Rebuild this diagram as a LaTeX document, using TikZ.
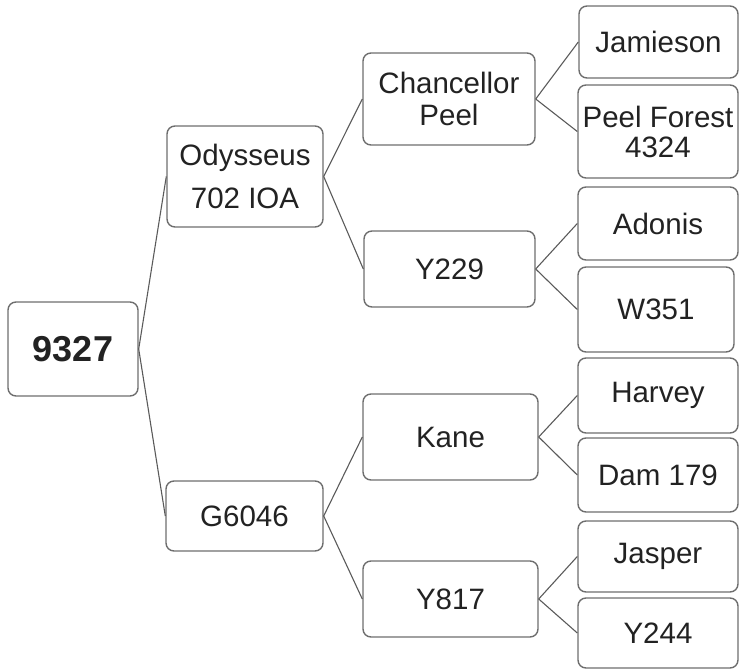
\documentclass[tikz,border=0pt]{standalone}
\usepackage{fontspec}
\setmainfont{Liberation Sans}
\definecolor{boxline}{HTML}{6E6E6E}
\definecolor{conn}{HTML}{5A5A5A}
\definecolor{txt}{HTML}{222222}
\tikzset{
  box/.style={draw=boxline, line width=1.4pt, rounded corners=8pt, fill=white,
    inner sep=0pt, align=center, text=txt,
    font=\fontsize{29.5}{32}\selectfont},
  conn/.style={draw=conn, line width=1.1pt}
}
\begin{document}
\begin{tikzpicture}[x=1pt,y=-1pt]
\useasboundingbox (0,0) rectangle (740,669);
% root
\node[box, minimum width=130pt, minimum height=94pt, font=\fontsize{36}{40}\selectfont\bfseries] (root) at (73,349) {9327};
% level 1
\node[box, minimum width=156pt, minimum height=101pt, font=\fontsize{29.5}{43}\selectfont] (ody) at (245,176.5) {Odysseus\\702 IOA};
\node[box, minimum width=157pt, minimum height=70pt] (g) at (244.5,516) {G6046};
% level 2
\node[box, minimum width=172pt, minimum height=92pt] (cp) at (449,99) {Chancellor\\Peel};
\node[box, minimum width=171pt, minimum height=76pt] (y229) at (449.5,269) {Y229};
\node[box, minimum width=175pt, minimum height=86pt] (kane) at (450.5,437) {Kane};
\node[box, minimum width=175pt, minimum height=76pt] (y817) at (450.5,599) {Y817};
% leaves
\node[box, minimum width=159pt, minimum height=72pt] (jam) at (658.5,42) {Jamieson};
\node[box, minimum width=160pt, minimum height=93pt, font=\fontsize{29.5}{30}\selectfont] (pf) at (658,131.5) {Peel Forest\\4324};
\node[box, minimum width=160pt, minimum height=73pt] (ad) at (658,223.5) {Adonis};
\node[box, minimum width=156pt, minimum height=85pt] (w) at (656,309.5) {W351};
\node[box, minimum width=160pt, minimum height=75pt] (har) at (658,395.5) {Harvey};
\node[box, minimum width=160pt, minimum height=74pt] (dam) at (658,475) {Dam 179};
\node[box, minimum width=160pt, minimum height=71pt] (jas) at (658,556.5) {Jasper};
\node[box, minimum width=160pt, minimum height=70pt] (y244) at (658,633) {Y244};
% connectors
\draw[conn] (root.east) -- (ody.west);
\draw[conn] (root.east) -- (g.west);
\draw[conn] (ody.east) -- (cp.west);
\draw[conn] (ody.east) -- (y229.west);
\draw[conn] (g.east) -- (kane.west);
\draw[conn] (g.east) -- (y817.west);
\draw[conn] (cp.east) -- (jam.west);
\draw[conn] (cp.east) -- (pf.west);
\draw[conn] (y229.east) -- (ad.west);
\draw[conn] (y229.east) -- (w.west);
\draw[conn] (kane.east) -- (har.west);
\draw[conn] (kane.east) -- (dam.west);
\draw[conn] (y817.east) -- (jas.west);
\draw[conn] (y817.east) -- (y244.west);
\end{tikzpicture}
\end{document}
